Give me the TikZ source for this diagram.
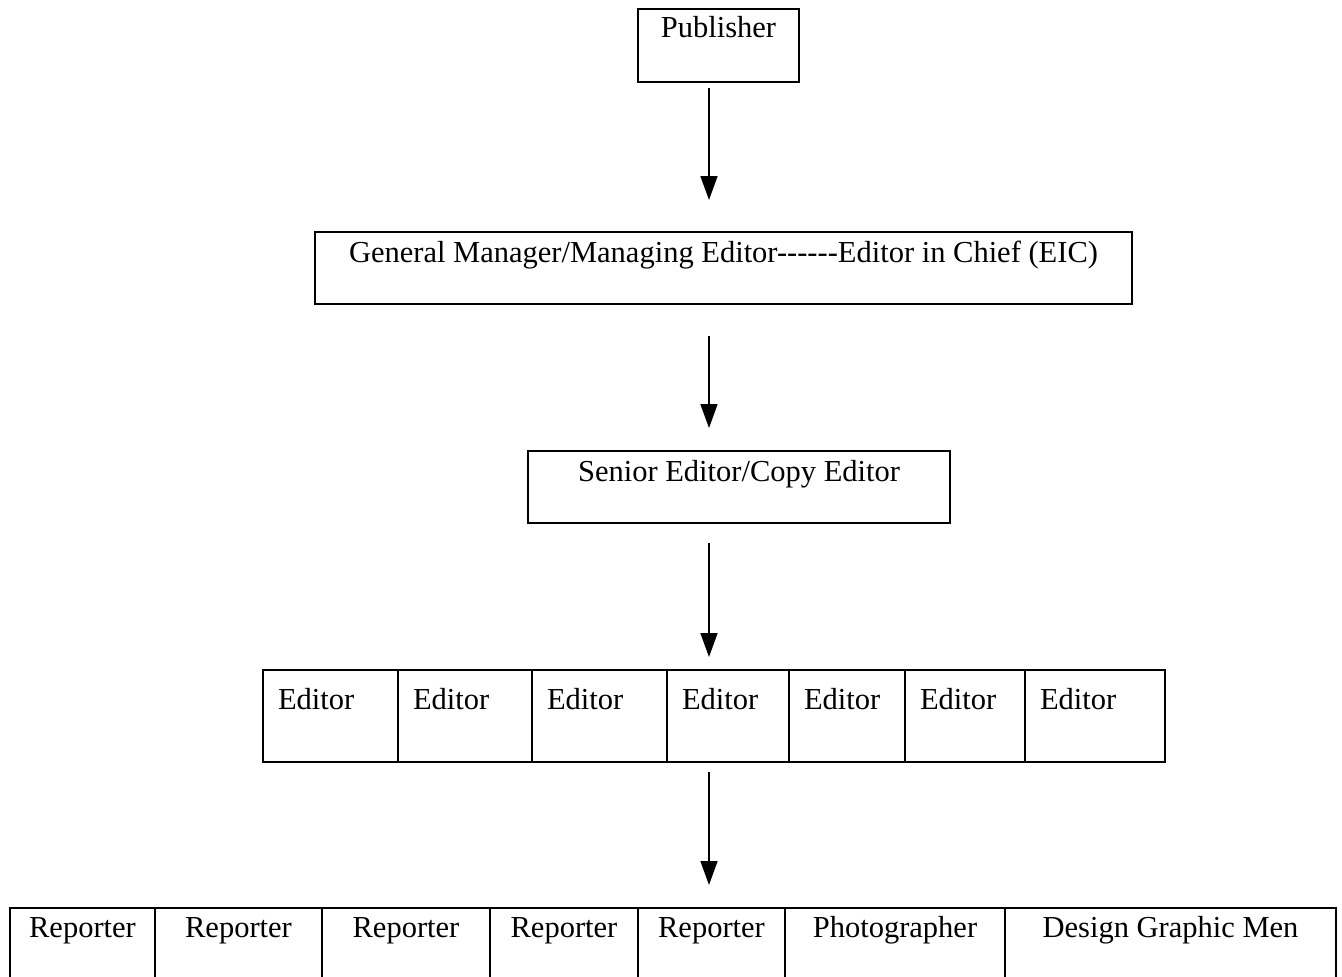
\documentclass[tikz,border=0pt]{standalone}
\usepackage{fontspec}
\setmainfont{Liberation Serif}
\usepackage{tikz}
\usetikzlibrary{arrows.meta}
\usetikzlibrary{positioning}

\tikzset{
  box/.style={draw, line width=1.6pt, inner sep=0pt, outer sep=0pt, anchor=north west},
  edcell/.style={box, inner xsep=15pt, align=left, text height=39pt, text depth=53pt},
  rpcell/.style={box, align=center, text height=29pt, text depth=48pt},
  down/.style={line width=1.6pt, -{Triangle[width=17pt,length=24pt]}}
}

\begin{document}
\begin{tikzpicture}[x=1pt, y=-1pt, font=\fontsize{30.5}{36}\selectfont]
    \useasboundingbox (0,0) rectangle (1342,977);
    \clip (0,0) rectangle (1342,977);

    % Top boxes
    \node[box, minimum width=161pt, text height=28pt, text depth=45pt] (pub) at (638,9) {Publisher};
    \node[box, minimum width=817pt, text height=30pt, text depth=42pt] (gm) at (315,232) {General Manager/Managing Editor-{}-{}-{}-{}-{}-Editor in Chief (EIC)};
    \node[box, minimum width=422pt, text height=30pt, text depth=42pt] (senior) at (528,451) {Senior Editor/Copy Editor};

    % Editors row
    \node[edcell, text width=105pt] (ed1) at (263,670) {Editor};
    \node[edcell, text width=104pt, right=0pt of ed1] (ed2) {Editor};
    \node[edcell, text width=105pt, right=0pt of ed2] (ed3) {Editor};
    \node[edcell, text width=92pt, right=0pt of ed3] (ed4) {Editor};
    \node[edcell, text width=86pt, right=0pt of ed4] (ed5) {Editor};
    \node[edcell, text width=90pt, right=0pt of ed5] (ed6) {Editor};
    \node[edcell, text width=110pt, right=0pt of ed6] (ed7) {Editor};

    % Reporters row
    \node[rpcell, minimum width=145pt] (rp1) at (10,908) {Reporter};
    \node[rpcell, minimum width=167pt, right=0pt of rp1] (rp2) {Reporter};
    \node[rpcell, minimum width=168pt, right=0pt of rp2] (rp3) {Reporter};
    \node[rpcell, minimum width=148pt, right=0pt of rp3] (rp4) {Reporter};
    \node[rpcell, minimum width=147pt, right=0pt of rp4] (rp5) {Reporter};
    \node[rpcell, minimum width=220pt, right=0pt of rp5] (rp6) {Photographer};
    \node[rpcell, minimum width=331pt, right=0pt of rp6] (rp7) {Design Graphic Men};

    % Arrows
    \coordinate (ax) at (709,0);
    \draw[down, shorten <=6pt, shorten >=32pt] (ax |- pub.south) -- (ax |- gm.north);
    \draw[down, shorten <=32pt, shorten >=23pt] (ax |- gm.south) -- (ax |- senior.north);
    \draw[down, shorten <=20pt, shorten >=13pt] (ax |- senior.south) -- (ax |- ed4.north);
    \draw[down, shorten <=10pt, shorten >=23pt] (ax |- ed4.south) -- (ax |- rp5.north);
\end{tikzpicture}
\end{document}
